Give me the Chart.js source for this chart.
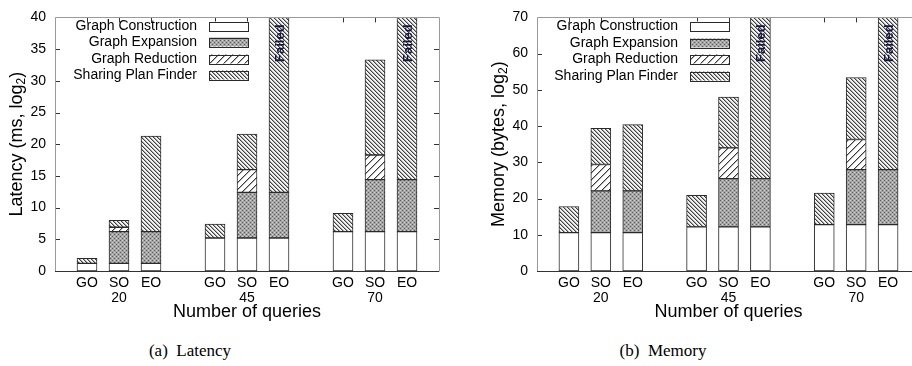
<!DOCTYPE html>
<html><head><meta charset="utf-8">
<script src="https://cdn.jsdelivr.net/npm/chart.js@4.4.1/dist/chart.umd.min.js"></script>
<style>
html,body{margin:0;padding:0;background:#fff;overflow:hidden;width:912px;height:366px;position:relative;}
#wrapA{position:absolute;left:0;top:0;width:456px;height:330px;}
#wrapB{position:absolute;left:456px;top:0;width:470px;height:330px;}
.cap{position:absolute;top:341px;font-family:"Liberation Serif","Times New Roman",serif;font-size:17px;color:#000;white-space:nowrap;transform:translateX(-50%);}
</style></head><body>
<div id="wrapA"><canvas id="cA" width="456" height="330"></canvas></div>
<div id="wrapB"><canvas id="cB" width="470" height="330"></canvas></div>
<div class="cap" style="left:190px">(a)&nbsp; Latency</div>
<div class="cap" style="left:663px">(b)&nbsp; Memory</div>
<script>
// ---------- data ----------
const categories = ['', 'GO', 'SO', 'EO', '', 'GO', 'SO', 'EO', '', 'GO', 'SO', 'EO', ''];
const groupLabels = ['20', '45', '70'];           // number of queries (under SO)
const seriesNames = ['Graph Construction', 'Graph Expansion', 'Graph Reduction', 'Sharing Plan Finder'];
const failed = [false, false, false, false, false, false, false, true, false, false, false, true, false];

// Latency (ms, log2) - stacked segment sizes
const latConstruction = [null, 1.2, 1.2, 1.2, null, 5.2, 5.2, 5.2, null, 6.2, 6.2, 6.2, null];
const latExpansion    = [null, null, 5.0, 5.0, null, null, 7.2, 7.2, null, null, 8.2, 8.2, null];
const latReduction    = [null, null, 0.7, null, null, null, 3.6, null, null, null, 3.9, null, null];
const latSharing      = [null, 0.8, 1.1, 15.1, null, 2.2, 5.6, 27.6, null, 2.9, 15.0, 25.6, null];
const latTicks = [0, 5, 10, 15, 20, 25, 30, 35, 40];

// Memory (bytes, log2) - stacked segment sizes
const memConstruction = [null, 10.6, 10.6, 10.6, null, 12.2, 12.2, 12.2, null, 12.8, 12.8, 12.8, null];
const memExpansion    = [null, null, 11.5, 11.5, null, null, 13.3, 13.3, null, null, 15.2, 15.2, null];
const memReduction    = [null, null, 7.3, null, null, null, 8.5, null, null, null, 8.3, null, null];
const memSharing      = [null, 7.2, 10.0, 18.3, null, 8.7, 14.0, 44.5, null, 8.7, 17.1, 42.0, null];
const memTicks = [0, 10, 20, 30, 40, 50, 60, 70];

// ---------- patterns ----------
function tile(n, draw){const c=document.createElement('canvas');c.width=n;c.height=n;const g=c.getContext('2d');draw(g,n);return document.createElement('canvas').getContext('2d').createPattern(c,'repeat');}
const patWhite = '#ffffff';
const patExpansion = tile(4,(g)=>{g.fillStyle='#a4a4a4';g.fillRect(0,0,4,4);g.fillStyle='#5e5e5e';g.fillRect(0,0,1,1);g.fillRect(2,2,1,1);g.fillStyle='#d2d2d2';g.fillRect(2,0,1,1);g.fillRect(0,2,1,1);});
const patReduction = tile(7,(g,n)=>{g.fillStyle='#fff';g.fillRect(0,0,n,n);for(let i=0;i<n;i++){g.fillStyle='#3a3a3a';g.fillRect(n-1-i,i,1,1);g.fillStyle='#b0b0b0';g.fillRect((n-i)%n,i,1,1);}});
const patSharing = tile(4,(g,n)=>{g.fillStyle='#f4f4f4';g.fillRect(0,0,n,n);for(let i=0;i<n;i++){g.fillStyle='#404040';g.fillRect(i,i,1,1);g.fillStyle='#a8a8a8';g.fillRect((i+1)%n,i,1,1);}});
const fills = [patWhite, patExpansion, patReduction, patSharing];

const FONT = '"Liberation Sans", Arial, sans-serif';
const xLabels = categories.map((c,i)=> c==='SO' ? [c, groupLabels[Math.floor(i/4)]] : c);

function makeChart(id, cfg){
  const series = cfg.series;
  const datasets = series.map((d,k)=>({label:seriesNames[k],data:d,backgroundColor:fills[k],borderColor:'#2a2a2a',borderWidth:1,borderSkipped:false,barThickness:20,stack:'s'}));
  const plugin = {
    id:'deco'+id,
    beforeDatasetsDraw(chart){
      const {ctx, chartArea:a, scales:{x,y}} = chart;
      ctx.save(); ctx.strokeStyle='#333'; ctx.lineWidth=1; ctx.beginPath();
      cfg.ticks.forEach(v=>{const py=Math.round(y.getPixelForValue(v))+0.5; if(v===cfg.ticks[0]||v===cfg.ticks[cfg.ticks.length-1]) return; ctx.moveTo(a.left,py);ctx.lineTo(a.left+5,py);ctx.moveTo(a.right,py);ctx.lineTo(a.right-5,py);});
      categories.forEach((c,i)=>{if(!c) return; const px=Math.round(x.getPixelForValue(i))+0.5; ctx.moveTo(px,a.top);ctx.lineTo(px,a.top+5);ctx.moveTo(px,a.bottom);ctx.lineTo(px,a.bottom-5);});
      ctx.stroke(); ctx.restore();
    },
    afterDatasetsDraw(chart){
      const {ctx, chartArea:a, scales:{x,y}} = chart;
      ctx.save();
      // frame
      ctx.lineWidth=1;
      ctx.strokeStyle='#9a9a9a';
      ctx.beginPath();
      ctx.moveTo(Math.round(a.left)+0.5,Math.round(a.bottom)+0.5);ctx.lineTo(Math.round(a.left)+0.5,Math.round(a.top)+0.5);
      ctx.lineTo(Math.round(a.right)+0.5,Math.round(a.top)+0.5);ctx.lineTo(Math.round(a.right)+0.5,Math.round(a.bottom)+0.5);
      ctx.stroke();
      ctx.strokeStyle='#333';
      ctx.beginPath();ctx.moveTo(a.left,Math.round(a.bottom)+0.5);ctx.lineTo(a.right,Math.round(a.bottom)+0.5);ctx.stroke();
      // failed labels
      ctx.fillStyle='#16163c'; ctx.font='bold 13px '+FONT; ctx.textAlign='right'; ctx.textBaseline='middle';
      failed.forEach((f,i)=>{ if(!f) return; const px=x.getPixelForValue(i)+1; ctx.save(); ctx.translate(px,a.top+7); ctx.rotate(-Math.PI/2); ctx.fillText('Failed',0,0); ctx.restore();});
      // legend
      ctx.font='14px '+FONT; ctx.textAlign='right'; ctx.textBaseline='middle'; ctx.fillStyle='#000';
      seriesNames.forEach((n,k)=>{
        const cy=cfg.legendY[k];
        ctx.fillStyle='#000'; ctx.fillText(n,cfg.legendTextX,cy);
        ctx.fillStyle=fills[k]; ctx.fillRect(cfg.swX,cy-4.5,39,9);
        ctx.strokeStyle='#2a2a2a'; ctx.strokeRect(cfg.swX+0.5,Math.round(cy-4.5)+0.5,39,9);
      });
      ctx.restore();
    },
    afterDraw(chart){
      const {ctx, chartArea:a} = chart;
      ctx.save(); ctx.fillStyle='#000';
      // x title
      ctx.font='18px '+FONT; ctx.textAlign='center'; ctx.textBaseline='middle';
      ctx.fillText('Number of queries',(a.left+a.right)/2,cfg.xTitleY);
      // y title with subscript
      ctx.translate(cfg.yTitleX,(a.top+a.bottom)/2); ctx.rotate(-Math.PI/2);
      ctx.textAlign='left';
      const p1=cfg.yTitle+' (', p1b=cfg.yUnit+', log', p2='2', p3=')';
      ctx.font='18px '+FONT; const w1=ctx.measureText(p1+p1b).width, w3=ctx.measureText(p3).width;
      ctx.font='12px '+FONT; const w2=ctx.measureText(p2).width;
      let s=-(w1+w2+w3)/2;
      ctx.font='18px '+FONT; ctx.fillText(p1+p1b,s,0); s+=w1;
      ctx.font='12px '+FONT; ctx.fillText(p2,s,5); s+=w2;
      ctx.font='18px '+FONT; ctx.fillText(p3,s,0);
      ctx.restore();
    }
  };
  return new Chart(document.getElementById(id),{
    type:'bar',
    data:{labels:xLabels,datasets},
    options:{
      responsive:false, animation:false, events:[],
      layout:{padding:{top:cfg.padTop,right:cfg.padRight,left:0,bottom:0}},
      plugins:{legend:{display:false},tooltip:{enabled:false}},
      scales:{
        x:{stacked:true,offset:false,grid:{display:false,drawTicks:false},border:{display:false},
           ticks:{autoSkip:false,maxRotation:0,minRotation:0,padding:5,color:'#000',font:{family:FONT,size:14,lineHeight:'15px'}},
           afterFit(s){s.height=cfg.xAxisH;}},
        y:{stacked:true,min:0,max:cfg.ticks[cfg.ticks.length-1],grid:{display:false,drawTicks:false},border:{display:false},
           afterBuildTicks(s){s.ticks=cfg.ticks.map(v=>({value:v}));},
           ticks:{padding:9,color:'#000',font:{family:FONT,size:14}},
           afterFit(s){s.width=cfg.yAxisW;}}
      }
    },
    plugins:[plugin]
  });
}

makeChart('cA',{series:[latConstruction,latExpansion,latReduction,latSharing],ticks:latTicks,
  yTitle:'Latency',yUnit:'ms',padTop:12,padRight:17,yAxisW:55,xAxisH:59,
  legendTextX:197,swX:209,legendY:[26,42,59,75],xTitleY:312,yTitleX:17});
makeChart('cB',{series:[memConstruction,memExpansion,memReduction,memSharing],ticks:memTicks,
  yTitle:'Memory',yUnit:'bytes',padTop:12,padRight:6,yAxisW:81,xAxisH:59,
  legendTextX:222,swX:234,legendY:[26,43,59,76],xTitleY:312,yTitleX:43});
</script>
</body></html>
